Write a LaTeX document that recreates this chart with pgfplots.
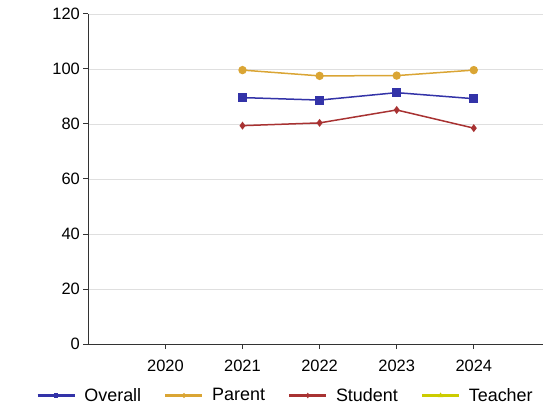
\documentclass[border=0pt]{standalone}
\usepackage{fontspec}
\setmainfont{Liberation Sans}
\usepackage{pgfplots}
\pgfplotsset{compat=1.18}
\definecolor{cOverall}{RGB}{51,51,168}
\definecolor{cParent}{RGB}{218,165,52}
\definecolor{cStudent}{RGB}{168,50,50}
\definecolor{cTeacher}{RGB}{204,204,0}
\begin{document}
\begin{tikzpicture}
\begin{axis}[
  scale only axis,
  width=462.6bp, height=330bp,
  at={(0,0)}, anchor=origin,
  xmin=2019, xmax=2025,
  ymin=0, ymax=120,
  xtick={2020,2021,2022,2023,2024},
  xticklabels={2020,2021,2022,2023,2024},
  ytick={0,20,40,60,80,100,120},
  axis x line=bottom, axis y line=left,
  axis line style={-, black!80, line width=1bp},
  tick style={black!80, line width=1bp},
  tick align=outside,
  major tick length=5bp,
  ymajorgrids, xmajorgrids=false,
  major grid style={gray!25, line width=0.9bp},
  /pgf/number format/assume math mode=true,
  ticklabel style={font=\fontsize{16.5}{19}\selectfont},
  xticklabel style={yshift=-8bp},
  legend columns=4,
  legend style={draw=none, fill=none, font=\fontsize{18}{21}\selectfont,
    inner sep=0pt, outer sep=0pt,
    nodes={inner sep=0pt},
    at={(axis description cs:0,0)}, anchor=west, xshift=-51.9bp, yshift=-51.5bp,
    /tikz/every odd column/.append style={column sep=8.5bp},
    /tikz/every even column/.append style={column sep=23bp}},
  legend image code/.code={
    \draw[#1, mark=none, line width=2.5bp] (0bp,0bp) -- (37bp,0bp);
    \path[#1, mark size=1.6bp] plot coordinates {(18.5bp,0bp)};
  },
]
\addplot[cOverall, line width=1.5bp, mark=square*, mark size=3.7bp] coordinates {
(2021,89.6) (2022,88.7) (2023,91.4) (2024,89.2)};
\addlegendentry{Overall}
\addplot[cParent, line width=1.5bp, mark=*, mark size=3.4bp] coordinates {
(2021,99.6) (2022,97.5) (2023,97.6) (2024,99.6)};
\addlegendentry{Parent}
\addplot[cStudent, line width=1.5bp, mark=diamond*, mark size=2.8bp] coordinates {
(2021,79.4) (2022,80.4) (2023,85.1) (2024,78.5)};
\addlegendentry{Student}
\addlegendimage{cTeacher, line width=1.5bp, mark=triangle*, mark size=1.6bp}
\addlegendentry{Teacher}
\node[rotate=90, anchor=center, font=\fontsize{18}{21}\selectfont] at ([xshift=-64.3bp]axis description cs:0,0.5) {Result(\%)};
\end{axis}
\pgfresetboundingbox
\path[use as bounding box] (-88.3bp,-63bp) rectangle (454.7bp,344bp);
\end{tikzpicture}
\end{document}
